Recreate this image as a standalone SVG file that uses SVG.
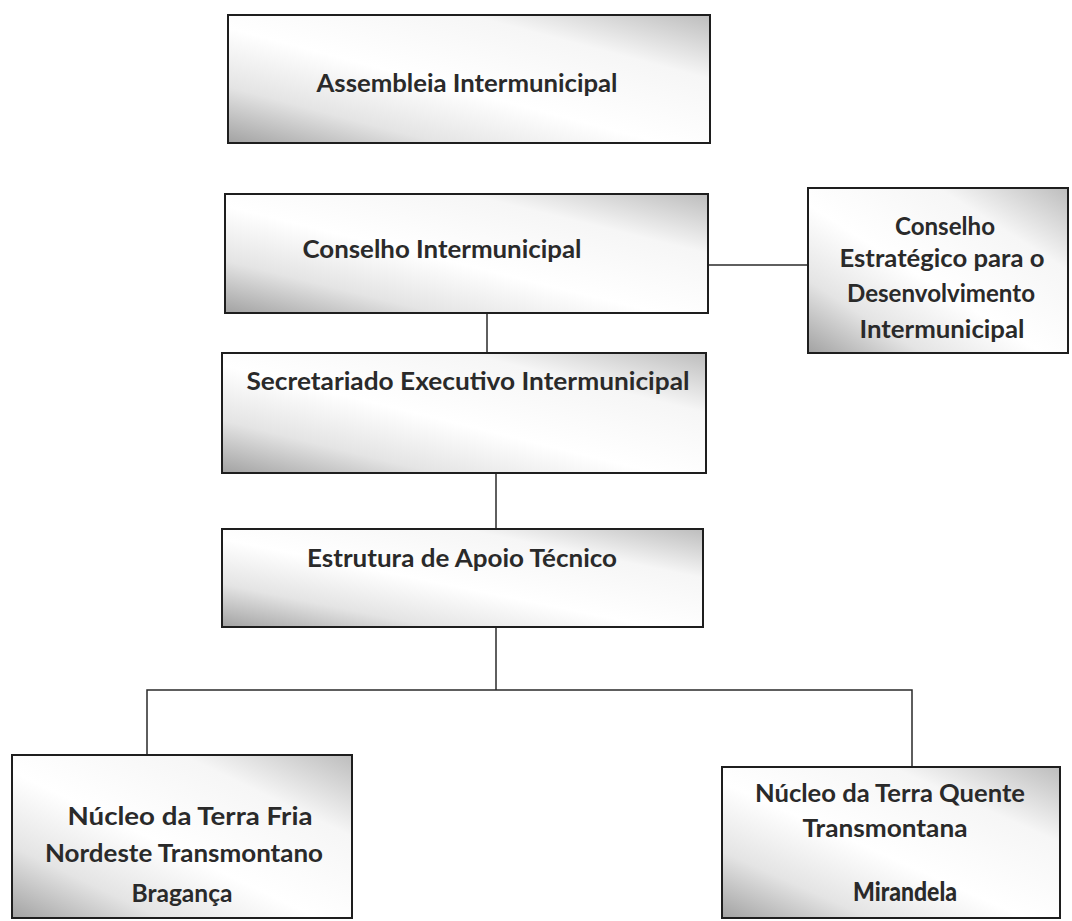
<svg xmlns="http://www.w3.org/2000/svg" width="1072" height="921" viewBox="0 0 1072 921">
<style>
.box{stroke:#1e1e1e;stroke-width:2;fill:url(#g)}
.t{font-family:Lato,"Open Sans","Liberation Sans",sans-serif;font-weight:700;font-size:25px;fill:#2a2a2a;text-anchor:middle}
.c{stroke:#2a2a2a;stroke-width:1.5;fill:none}
</style>
<defs>
<linearGradient id="g" x1="1" y1="0" x2="0" y2="1">
<stop offset="0" stop-color="#bdbdbd"/>
<stop offset="0.25" stop-color="#f6f6f6"/>
<stop offset="0.55" stop-color="#ffffff"/>
<stop offset="0.78" stop-color="#e4e4e4"/>
<stop offset="1" stop-color="#a2a2a2"/>
</linearGradient>
</defs>
<rect width="1072" height="921" fill="#ffffff"/>
<g id="connectors">
<line class="c" x1="487" y1="313" x2="487" y2="353"/>
<line class="c" x1="708" y1="265" x2="808" y2="265"/>
<line class="c" x1="496" y1="473" x2="496" y2="529"/>
<polyline class="c" points="496,627 496,690"/>
<polyline class="c" points="147,755 147,690 912,690 912,767"/>
</g>
<g id="assembleia">
<rect class="box" x="228" y="15" width="482" height="128"/>
<text class="t" x="467" y="92" textLength="301" lengthAdjust="spacingAndGlyphs">Assembleia Intermunicipal</text>
</g>
<g id="conselho">
<rect class="box" x="225" y="194" width="483" height="119"/>
<text class="t" x="442" y="258" textLength="279" lengthAdjust="spacingAndGlyphs">Conselho Intermunicipal</text>
</g>
<g id="conselho-estrategico">
<rect class="box" x="808" y="188" width="260" height="165"/>
<text class="t" x="945" y="235" textLength="100" lengthAdjust="spacingAndGlyphs">Conselho</text>
<text class="t" x="942" y="267" textLength="205" lengthAdjust="spacingAndGlyphs">Estratégico para o</text>
<text class="t" x="941" y="302" textLength="188" lengthAdjust="spacingAndGlyphs">Desenvolvimento</text>
<text class="t" x="942" y="338" textLength="165" lengthAdjust="spacingAndGlyphs">Intermunicipal</text>
</g>
<g id="secretariado">
<rect class="box" x="222" y="353" width="484" height="120"/>
<text class="t" x="468" y="390" textLength="443" lengthAdjust="spacingAndGlyphs">Secretariado Executivo Intermunicipal</text>
</g>
<g id="estrutura">
<rect class="box" x="222" y="529" width="481" height="98"/>
<text class="t" x="462" y="567" textLength="310" lengthAdjust="spacingAndGlyphs">Estrutura de Apoio Técnico</text>
</g>
<g id="terra-fria">
<rect class="box" x="12" y="755" width="340" height="163"/>
<text class="t" x="190" y="825" textLength="245" lengthAdjust="spacingAndGlyphs">Núcleo da Terra Fria</text>
<text class="t" x="184" y="862" textLength="278" lengthAdjust="spacingAndGlyphs">Nordeste Transmontano</text>
<text class="t" x="182" y="902" textLength="101" lengthAdjust="spacingAndGlyphs">Bragança</text>
</g>
<g id="terra-quente">
<rect class="box" x="722" y="767" width="338" height="151"/>
<text class="t" x="890" y="802" textLength="270" lengthAdjust="spacingAndGlyphs">Núcleo da Terra Quente</text>
<text class="t" x="885" y="837" textLength="165" lengthAdjust="spacingAndGlyphs">Transmontana</text>
<text class="t" x="905" y="901" style="font-weight:900;font-size:27px" textLength="104" lengthAdjust="spacingAndGlyphs">Mirandela</text>
</g>
</svg>
